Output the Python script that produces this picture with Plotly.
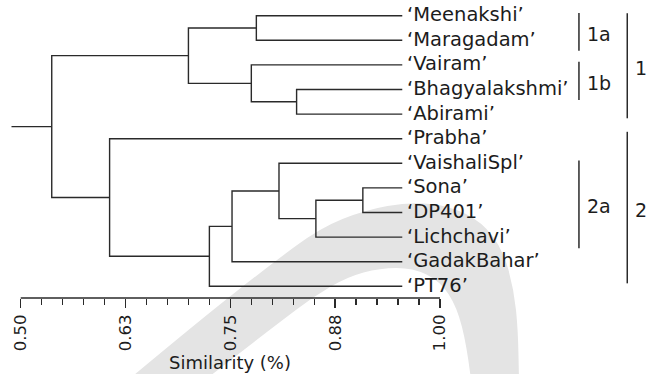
import plotly.graph_objects as go

# ---------------- data ----------------
leaves = ["Meenakshi", "Maragadam", "Vairam", "Bhagyalakshmi", "Abirami", "Prabha",
          "VaishaliSpl", "Sona", "DP401", "Lichchavi", "GadakBahar", "PT76"]

# agglomeration steps (cluster k is named "c{k}")
merge_left = ["Meenakshi", "Bhagyalakshmi", "Vairam", "c0", "Sona", "c4",
              "VaishaliSpl", "c6", "c7", "Prabha", "c3"]
merge_right = ["Maragadam", "Abirami", "c1", "c2", "DP401", "Lichchavi",
               "c5", "GadakBahar", "PT76", "c8", "c9"]
merge_similarity = [0.781, 0.829, 0.775, 0.700, 0.908, 0.852,
                    0.808, 0.752, 0.725, 0.606, 0.537]
leaf_similarity = 0.955
root_stub_similarity = 0.489

group_labels = ["1a", "1b", "2a", "1", "2"]
group_first = ["Meenakshi", "Vairam", "VaishaliSpl", "Meenakshi", "Prabha"]
group_last = ["Maragadam", "Bhagyalakshmi", "Lichchavi", "Abirami", "PT76"]

tick_vals = [0.50, 0.625, 0.75, 0.875, 1.00]
tick_text = ["0.50", "0.63", "0.75", "0.88", "1.00"]
minor_tick_vals = [0.525, 0.55, 0.575, 0.60, 0.65, 0.675, 0.70, 0.725,
                   0.775, 0.80, 0.825, 0.85, 0.90, 0.925, 0.95, 0.975]
axis_title = "Similarity (%)"

# ---------------- style ----------------
W, H = 653, 374
M_L, M_R, M_T, M_B = 0, 0, 0, 76
X_RANGE = [0.4753, 1.2540]
Y_RANGE = [-0.476, 11.638]
FONT = "DejaVu Sans"
INK = "#1c1c1c"
LINE = "#2a2a2a"
group_level = [0, 0, 0, 1, 1]
level_x = [1.1657, 1.2233]
group_top_pad = [0.11, 0.13, 0.11, 0.10, 0.28]
group_bottom_pad = [0.43, 0.43, 0.45, 0.17, -0.12]

# ---------------- tree geometry ----------------
n = len(leaves)
node_y = {name: n - 1 - i for i, name in enumerate(leaves)}
node_x = {name: leaf_similarity for name in leaves}
xs, ys = [], []
for k, (a, b, s) in enumerate(zip(merge_left, merge_right, merge_similarity)):
    ya, yb = node_y[a], node_y[b]
    xs += [node_x[a], s, s, node_x[b], None]
    ys += [ya, ya, yb, yb, None]
    node_x[f"c{k}"] = s
    node_y[f"c{k}"] = (ya + yb) / 2
root = f"c{len(merge_left) - 1}"
xs += [node_x[root], root_stub_similarity, None]
ys += [node_y[root], node_y[root], None]

fig = go.Figure()
fig.add_trace(go.Scatter(x=xs, y=ys, mode="lines",
                         line=dict(color=LINE, width=1.4),
                         hoverinfo="skip", showlegend=False))

# group brackets
bx, by = [], []
for lab, f, l, lev, tp, bp in zip(group_labels, group_first, group_last,
                                   group_level, group_top_pad, group_bottom_pad):
    y_top = node_y[f] + tp
    y_bot = node_y[l] - bp
    bx += [level_x[lev], level_x[lev], None]
    by += [y_top, y_bot, None]
    fig.add_annotation(x=level_x[lev], y=(y_top + y_bot) / 2 - 0.08, text=lab,
                       xref="x", yref="y", showarrow=False,
                       xanchor="left", yanchor="middle", xshift=6,
                       font=dict(family=FONT, size=19, color=INK))
fig.add_trace(go.Scatter(x=bx, y=by, mode="lines",
                         line=dict(color=LINE, width=1.5),
                         hoverinfo="skip", showlegend=False))

# leaf labels
for name in leaves:
    fig.add_annotation(x=leaf_similarity, y=node_y[name], text="\u2018" + name + "\u2019",
                       xref="x", yref="y", showarrow=False,
                       xanchor="left", yanchor="middle", xshift=3, yshift=1,
                       font=dict(family=FONT, size=19.5, color=INK))

# axis title
fig.add_annotation(x=0.75, y=-0.218, xref="x", yref="paper", text=axis_title,
                   showarrow=False, xanchor="center", yanchor="middle",
                   font=dict(family=FONT, size=18, color=INK))

# axis base line (only from 0.50 to 1.00)
fig.add_shape(type="line", xref="x", yref="paper",
              x0=tick_vals[0], x1=tick_vals[-1], y0=0, y1=0,
              line=dict(color=LINE, width=1.4))

# background watermark arc (decorative), pixel points -> paper coords
ph = H - M_T - M_B
def to_paper(p):
    return ((p[0] - M_L) / (W - M_L - M_R), (H - M_B - p[1]) / ph)

outer = [(128, 380), (200, 320), (270, 265), (320, 228), (365, 210), (410, 202),
         (450, 206), (482, 222), (503, 250), (514, 290), (518, 330), (519, 380)]
inner = [(471, 380), (467, 347), (457, 307), (440, 281), (413, 268), (380, 268),
         (347, 277), (313, 297), (280, 322), (250, 345), (205, 380)]

def smooth(pts):
    pp = [to_paper(p) for p in pts]
    d = f"L {pp[0][0]:.4f},{pp[0][1]:.4f} "
    for i in range(1, len(pp) - 1):
        mx = (pp[i][0] + pp[i + 1][0]) / 2
        my = (pp[i][1] + pp[i + 1][1]) / 2
        d += f"Q {pp[i][0]:.4f},{pp[i][1]:.4f} {mx:.4f},{my:.4f} "
    d += f"L {pp[-1][0]:.4f},{pp[-1][1]:.4f} "
    return d

p0 = to_paper(outer[0])
path = f"M {p0[0]:.4f},{p0[1]:.4f} " + smooth(outer) + smooth(inner) + "Z"
fig.add_shape(type="path", path=path, xref="paper", yref="paper",
              fillcolor="#e4e4e4", line=dict(width=0), layer="below")

fig.update_layout(
    width=W, height=H,
    margin=dict(l=M_L, r=M_R, t=M_T, b=M_B),
    paper_bgcolor="white", plot_bgcolor="rgba(0,0,0,0)",
    showlegend=False,
    xaxis=dict(range=X_RANGE, showgrid=False, zeroline=False, showline=False,
               tickmode="array", tickvals=tick_vals, ticktext=tick_text,
               ticks="outside", ticklen=9, tickwidth=1.4, tickcolor=LINE,
               tickangle=-90, tickfont=dict(family=FONT, size=16.5, color=INK),
               minor=dict(tickvals=minor_tick_vals, ticks="outside", ticklen=6,
                          tickwidth=1.4, tickcolor=LINE, showgrid=False),
               fixedrange=True),
    yaxis=dict(range=Y_RANGE, visible=False, fixedrange=True),
)

fig.write_html("out.html",
               config={"displayModeBar": False, "staticPlot": True},
               post_script="document.body.style.margin='0px';"
                           "document.body.style.padding='0px';"
                           "document.body.style.overflow='hidden';")
